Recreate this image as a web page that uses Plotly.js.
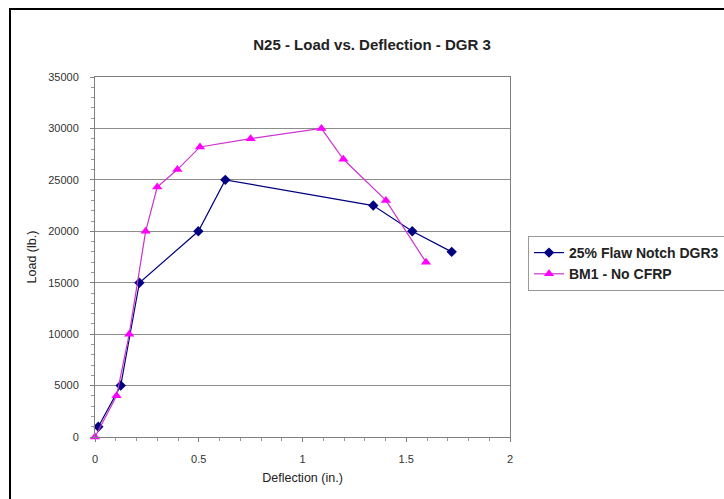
<!DOCTYPE html>
<html>
<head>
<meta charset="utf-8">
<script src="https://cdn.plot.ly/plotly-3.0.1.min.js"></script>
<style>
  html, body { margin: 0; padding: 0; background: #fff; overflow: hidden; }
  #wrap { position: relative; width: 724px; height: 499px; overflow: hidden; }
  #chart { position: absolute; left: 0; top: 0; width: 724px; height: 499px; }
  #frame { position: absolute; left: 9px; top: 8px; width: 800px; height: 600px;
           border-left: 2px solid #000; border-top: 2px solid #000; pointer-events: none; }
</style>
</head>
<body>
<div id="wrap">
  <div id="chart"></div>
  <div id="frame"></div>
</div>
<script>
const titleText = "N25 - Load vs. Deflection - DGR 3";
const xTitle = "Deflection (in.)";
const yTitle = "Load (lb.)";

const notchName = "25% Flaw Notch DGR3";
const notchDefl = [0.016, 0.124, 0.214, 0.498, 0.628, 1.341, 1.529, 1.719];
const notchLoad = [1000, 5000, 15000, 20000, 25000, 22500, 20000, 18000];

const bmName = "BM1 - No CFRP";
const bmDefl = [0.0, 0.104, 0.165, 0.244, 0.30, 0.397, 0.506, 0.75, 1.091, 1.197, 1.402, 1.595];
const bmLoad = [0, 4000, 10000, 20000, 24300, 26000, 28200, 29000, 30000, 27000, 23000, 17000];

const xTickVals = [0, 0.5, 1, 1.5, 2];
const xTickText = ["0", "0.5", "1", "1.5", "2"];
const yTickVals = [0, 5000, 10000, 15000, 20000, 25000, 30000, 35000];
const yTickText = ["0", "5000", "10000", "15000", "20000", "25000", "30000", "35000"];

const FONT = "Liberation Sans, Arial, sans-serif";

const traces = [
  {
    x: notchDefl, y: notchLoad, name: notchName, type: "scatter", mode: "lines+markers",
    line: { color: "#000080", width: 1.2 },
    marker: { symbol: "diamond", size: 8, color: "#000080" },
    cliponaxis: false
  },
  {
    x: bmDefl, y: bmLoad, name: bmName, type: "scatter", mode: "lines+markers",
    line: { color: "#cc33cc", width: 1.2 },
    marker: { symbol: "triangle-up", size: 9, color: "#ff00ff" },
    cliponaxis: false
  }
];

const layout = {
  width: 724, height: 499,
  margin: { l: 95, r: 214, t: 77, b: 62, autoexpand: false },
  paper_bgcolor: "#fff", plot_bgcolor: "#fff",
  font: { family: FONT, size: 11, color: "#222" },
  title: {
    text: "<b>" + titleText + "</b>",
    font: { family: FONT, size: 15, color: "#222" },
    x: 372 / 724, xanchor: "center", y: 1 - 45 / 499, yanchor: "middle"
  },
  xaxis: {
    range: [0, 2], tickmode: "array", tickvals: xTickVals, ticktext: xTickText,
    showgrid: false, zeroline: false,
    showline: true, linecolor: "#808080", linewidth: 1, mirror: true,
    ticks: "outside", ticklen: 4, tickcolor: "#808080",
    ticklabelstandoff: 8,
    minor: { dtick: 0.1, ticks: "outside", ticklen: 3, tickcolor: "#999", showgrid: false },
    tickfont: { family: FONT, size: 11, color: "#333" },
    title: { text: xTitle, font: { family: FONT, size: 12.5, color: "#222" }, standoff: 9 }
  },
  yaxis: {
    range: [0, 35000], tickmode: "array", tickvals: yTickVals, ticktext: yTickText,
    showgrid: true, gridcolor: "#8c8c8c", gridwidth: 1, zeroline: false,
    showline: true, linecolor: "#808080", linewidth: 1, mirror: true,
    ticks: "outside", ticklen: 4, tickcolor: "#808080",
    ticklabelstandoff: 9,
    minor: { dtick: 1000, ticks: "outside", ticklen: 3, tickcolor: "#999", showgrid: false },
    tickfont: { family: FONT, size: 11, color: "#333" },
    title: { text: yTitle, font: { family: FONT, size: 12.5, color: "#222" }, standoff: 8 }
  },
  showlegend: true,
  legend: {
    x: (528 - 95) / 415, xanchor: "left",
    y: (437 - 236) / 360, yanchor: "top",
    bordercolor: "#999", borderwidth: 1, bgcolor: "#fff",
    font: { family: FONT, size: 14, color: "#222", weight: "bold" },
    tracegroupgap: 0, itemwidth: 30
  }
};

Plotly.newPlot("chart", traces, layout, { staticPlot: true, displayModeBar: false });
</script>
</body>
</html>
